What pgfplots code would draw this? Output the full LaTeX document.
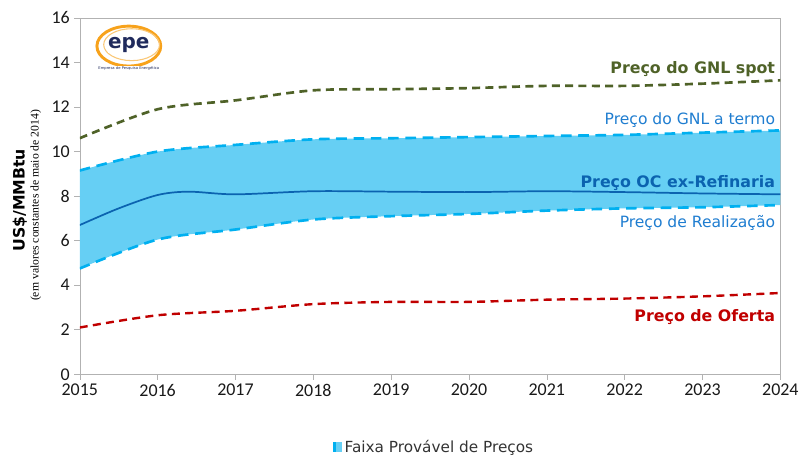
\documentclass[border=0pt]{standalone}
\usepackage{pgfplots}
\pgfplotsset{compat=1.18}
\usepgfplotslibrary{fillbetween}
\usepackage{fontspec}
\setmainfont{Carlito}
\newfontfamily\verd{DejaVu Sans}
\newfontfamily\serf{Liberation Serif}
\definecolor{olivec}{HTML}{4F6228}
\definecolor{bandfill}{HTML}{66CFF4}
\definecolor{banddash}{HTML}{00B0F0}
\definecolor{ocblue}{HTML}{0B63B0}
\definecolor{txtblue}{HTML}{1F7DD0}
\definecolor{redc}{HTML}{C00000}
\definecolor{epeblue}{HTML}{1F2A5C}
\definecolor{epeorange}{HTML}{F7A21B}
\begin{document}
\begin{tikzpicture}
\begin{axis}[
  name=ax, at={(0,0)}, anchor=south west,
  scale only axis, width=527pt, height=268pt,
  xmin=2015, xmax=2024, ymin=0, ymax=16,
  xtick={2015,...,2024}, ytick={0,2,...,16},
  xticklabel style={/pgf/number format/1000 sep={}},
  /pgf/number format/assume math mode=true,
  tick label style={font=\fontsize{13.5}{15}\selectfont, text=black!90},
  tick align=outside, tick pos=left,
  major tick length=4pt,
  axis line style={gray!60},
  every tick/.style={gray!60},
  legend style={at={(rel axis cs:0.506,0)}, anchor=center, yshift=-55pt, draw=none, fill=none,
    font=\verd\fontsize{11.5}{13}\selectfont, text=black!80},
  legend cell align=left,
]
\addplot[name path=upper, draw=none, smooth, forget plot]
 coordinates {(2015,9.15)(2016,10.0)(2017,10.3)(2018,10.55)(2019,10.6)(2020,10.65)(2021,10.7)(2022,10.75)(2023,10.85)(2024,10.95)};
\addplot[name path=lower, draw=none, smooth, forget plot]
 coordinates {(2015,4.75)(2016,6.05)(2017,6.5)(2018,6.95)(2019,7.1)(2020,7.2)(2021,7.35)(2022,7.45)(2023,7.5)(2024,7.6)};
\addplot[bandfill, draw=none, forget plot] fill between[of=upper and lower];
\addlegendimage{legend image code/.code={\fill[bandfill] (0pt,-3pt) rectangle (6.5pt,3.5pt); \fill[banddash] (0pt,-3pt) rectangle (1.3pt,3.5pt);}}
\addlegendentry{Faixa Provável de Preços}
\addplot[banddash, line width=2pt, dash pattern=on 8pt off 5pt, smooth, forget plot]
 coordinates {(2015,9.15)(2016,10.0)(2017,10.3)(2018,10.55)(2019,10.6)(2020,10.65)(2021,10.7)(2022,10.75)(2023,10.85)(2024,10.95)};
\addplot[banddash, line width=2pt, dash pattern=on 8pt off 5pt, smooth, forget plot]
 coordinates {(2015,4.75)(2016,6.05)(2017,6.5)(2018,6.95)(2019,7.1)(2020,7.2)(2021,7.35)(2022,7.45)(2023,7.5)(2024,7.6)};
\addplot[ocblue, line width=1.3pt, smooth, forget plot]
 coordinates {(2015,6.7)(2015.5,7.45)(2016,8.05)(2016.4,8.2)(2017,8.08)(2018,8.22)(2019,8.2)(2020,8.18)(2021,8.22)(2022,8.18)(2023,8.12)(2024,8.08)};
\addplot[olivec, line width=2pt, dash pattern=on 6pt off 4pt, smooth, forget plot]
 coordinates {(2015,10.6)(2016,11.9)(2017,12.3)(2018,12.75)(2019,12.8)(2020,12.85)(2021,12.95)(2022,12.95)(2023,13.05)(2024,13.2)};
\addplot[redc, line width=1.8pt, dash pattern=on 6pt off 4pt, smooth, forget plot]
 coordinates {(2015,2.1)(2016,2.65)(2017,2.85)(2018,3.15)(2019,3.25)(2020,3.25)(2021,3.35)(2022,3.4)(2023,3.5)(2024,3.65)};
% labels
\node[anchor=east, text=olivec, font=\verd\bfseries\fontsize{11.9}{13}\selectfont] at (rel axis cs:0.999,0.857) {Preço do GNL spot};
\node[anchor=east, text=txtblue, font=\verd\fontsize{11.7}{13}\selectfont] at (rel axis cs:0.999,0.714) {Preço do GNL a termo};
\node[anchor=east, text=ocblue, font=\verd\bfseries\fontsize{11.9}{13}\selectfont] at (rel axis cs:0.999,0.538) {Preço OC ex-Refinaria};
\node[anchor=east, text=txtblue, font=\verd\fontsize{11.7}{13}\selectfont] at (rel axis cs:0.999,0.426) {Preço de Realização};
\node[anchor=east, text=redc, font=\verd\bfseries\fontsize{11.9}{13}\selectfont] at (rel axis cs:0.999,0.162) {Preço de Oferta};
% logo
\draw[epeorange, line width=2.2pt, fill=white] (rel axis cs:0.070,0.921) ellipse (24pt and 15pt);
\draw[epeorange!60, line width=0.8pt] (rel axis cs:0.074,0.925) ellipse (21pt and 12pt);
\node[fill=white, inner sep=0.3pt, text=epeblue, font=\verd\bfseries\fontsize{15}{16}\selectfont] at (rel axis cs:0.070,0.925) {epe};
\node[fill=white, inner sep=0.5pt, text=epeblue, font=\verd\fontsize{2.8}{3}\selectfont] at (rel axis cs:0.070,0.858) {Empresa de Pesquisa Energética};
\end{axis}
\node[rotate=90, font=\verd\bfseries\fontsize{11.8}{12}\selectfont] at (-45pt,131pt) {US\$/MMBtu};
\node[rotate=90, font=\serf\fontsize{8.8}{9}\selectfont] at (-33pt,127pt) {(em valores constantes de maio de 2014)};
\path[use as bounding box] (-60pt,-60pt) rectangle (542pt,281.5pt);
\end{tikzpicture}
\end{document}
